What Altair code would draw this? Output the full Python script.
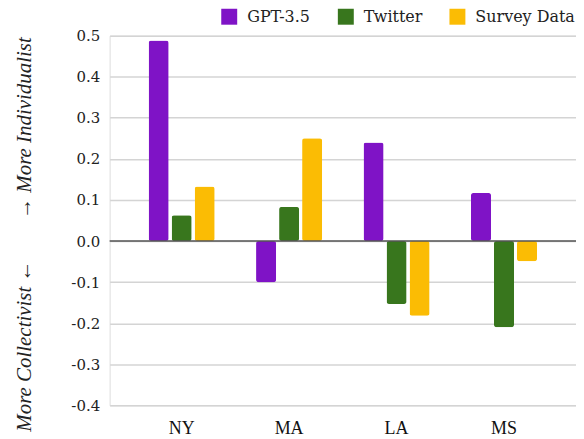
import altair as alt
import pandas as pd

states = ["NY", "MA", "LA", "MS"]
series = ["GPT-3.5", "Twitter", "Survey Data"]
gpt = [0.488, -0.10, 0.24, 0.117]
twitter = [0.063, 0.083, -0.153, -0.21]
survey = [0.133, 0.25, -0.182, -0.049]
colors = ["#7F13C6", "#38761D", "#FBBC04"]
y_ticks = [-0.4, -0.3, -0.2, -0.1, 0.0, 0.1, 0.2, 0.3, 0.4, 0.5]

rows = []
for name, vals in zip(series, [gpt, twitter, survey]):
    for s, v in zip(states, vals):
        rows.append({"state": s, "series": name, "value": v})
df = pd.DataFrame(rows)

FONT = "Liberation Serif"
NUMFONT = "DejaVu Serif"
title_text = "More Collectivist \u2190\u2003\u2003\u2192 More Individualist"

y_axis = alt.Axis(values=y_ticks, ticks=False, domain=False,
                  labelExpr="datum.value < -0.001 ? '-' + format(abs(datum.value), '.1f') : format(abs(datum.value), '.1f')",
                  labelPadding=10, labelFontSize=15, labelFont=NUMFONT,
                  labelColor="#222", gridColor="#d4d4d4", gridWidth=1.5,
                  title=title_text, titleFont=FONT, titleFontStyle="italic",
                  titleFontWeight="normal", titleFontSize=21,
                  titleColor="#222", titleAngle=270,
                  titleX=-79, titleY=199, titleAlign="center",
                  titleBaseline="alphabetic")
y_scale = alt.Scale(domain=[-0.4, 0.5], nice=False)

bars = alt.Chart(df).mark_bar(cornerRadius=2.5).encode(
    x=alt.X("state:N", sort=states,
            scale=alt.Scale(paddingInner=0, paddingOuter=0.17),
            axis=alt.Axis(title=None, labelAngle=0, ticks=False, domain=False,
                          grid=False, labelPadding=14, labelFontSize=18,
                          labelFont=FONT, labelColor="#111")),
    xOffset=alt.XOffset("series:N", sort=series,
                        scale=alt.Scale(paddingInner=0.13, paddingOuter=0.9)),
    y=alt.Y("value:Q", scale=y_scale, axis=y_axis),
    color=alt.Color("series:N", sort=series,
                    scale=alt.Scale(domain=series, range=colors),
                    legend=alt.Legend(title=None, orient="none", direction="horizontal",
                                      legendX=112, legendY=-27, symbolType="square",
                                      symbolSize=256, symbolStrokeWidth=0,
                                      labelFont=NUMFONT, labelFontSize=16,
                                      labelColor="#222", labelOffset=10,
                                      columnPadding=27)),
)

zero = alt.Chart(pd.DataFrame({"value": [0.0]})).mark_rule(color="#555", strokeWidth=1.5).encode(
    y=alt.Y("value:Q", scale=y_scale, axis=y_axis)
)

chart = alt.layer(bars, zero).properties(
    width=468, height=371,
    autosize=alt.AutoSizeParams(type="none"),
    padding={"left": 102, "top": 27, "right": 0, "bottom": 33},
).configure_view(stroke=None).configure_axisY(
    labelFont=NUMFONT, titleFont=FONT
).configure(background="white")

chart.save("out.html", embed_options={"renderer": "svg", "actions": False})
